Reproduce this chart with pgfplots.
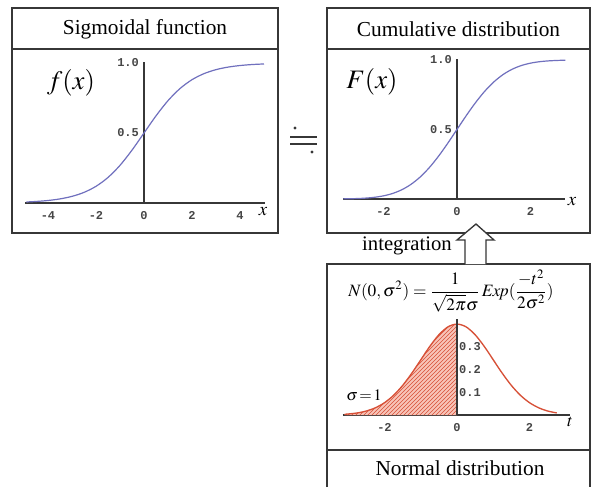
\documentclass[border=0pt]{standalone}
\usepackage{amsmath}
\usepackage{mathptmx}
\usepackage{fontspec}
\setmainfont{Liberation Serif}
\newfontfamily\monofont{Liberation Mono}
\usepackage{pgfplots}
\pgfplotsset{compat=1.18}
\usetikzlibrary{patterns}
\definecolor{frame}{RGB}{55,55,55}
\definecolor{sigblue}{RGB}{112,112,190}
\definecolor{normred}{RGB}{215,80,55}
\definecolor{hatchfill}{RGB}{248,196,184}
\definecolor{ticktext}{RGB}{70,70,70}
\pgfplotsset{
  panel/.style={
    scale only axis, anchor=south west,
    axis x line=bottom, axis y line=middle,
    axis line style={-, draw=frame, line width=0.9pt},
    tick style={draw=none},
    ticklabel style={font=\monofont\bfseries\fontsize{9}{10}\selectfont, text=ticktext},
    xticklabel style={yshift=-1pt},
    yticklabel style={inner sep=1.5pt},
    clip=false,
  }
}
\begin{document}
\begin{tikzpicture}
\path[use as bounding box, fill=white] (0,0) rectangle (445.5pt,-365.25pt);
\begin{scope}[x=0.75pt,y=-0.75pt]
  % frames
  \draw[frame, line width=1.1pt] (12,8) rectangle (278,233);
  \draw[frame, line width=1.1pt] (12,49) -- (278,49);
  \draw[frame, line width=1.1pt] (327,8) rectangle (590,233);
  \draw[frame, line width=1.1pt] (327,49) -- (590,49);
  \draw[frame, line width=1.1pt] (327,487) -- (327,264) -- (590,264) -- (590,487);
  \draw[frame, line width=1.1pt] (327,450) -- (590,450);
  % titles
  \node[font=\fontsize{16}{18}\selectfont] at (145,29) {Sigmoidal function};
  \node[font=\fontsize{16}{18}\selectfont] at (458.5,29) {Cumulative distribution};
  \node[font=\fontsize{16}{18}\selectfont] at (460,468) {Normal distribution};
  \node[font=\fontsize{15.5}{18}\selectfont] at (407,246) {integration};
  % function names
  \node[font=\fontsize{20}{22}\selectfont] at (71,83) {$f(x)$};
  \node[font=\fontsize{20}{22}\selectfont] at (372,82) {$F(x)$};
  % axis letters
  \node[font=\fontsize{14}{16}\selectfont] at (263,212) {$x$};
  \node[font=\fontsize{14}{16}\selectfont] at (572,202) {$x$};
  \node[font=\fontsize{13}{16}\selectfont] at (570,422) {$t$};
  \node[font=\fontsize{12}{14}\selectfont] at (364,395) {$\sigma\!=\!1$};
  % formula
  \node[font=\fontsize{13}{15}\selectfont] at (451,291)
    {$N(0,\sigma^2)=\dfrac{1}{\sqrt{2\pi}\sigma}\,\mathit{Exp}(\dfrac{-t^2}{2\sigma^2})$};
  % approx-equal sign
  \fill[frame] (295,128) circle (1.6);
  \fill[frame] (312,152) circle (1.6);
  \draw[frame, line width=1.4pt] (290,137) -- (317,137);
  \draw[frame, line width=1.4pt] (290,144) -- (317,144);
  % arrow
  \draw[frame, line width=1.0pt, fill=white] (465,264) -- (465,240) -- (457,240) -- (476,224) -- (494,240) -- (486,240) -- (486,264);
\end{scope}

% Panel 1: sigmoid
\begin{axis}[panel, at={(18.9pt,-152.25pt)},
  width=180pt, height=106.05pt,
  xmin=-4.95, xmax=5.05, ymin=0, ymax=1.01,
  xtick={-4,-2,0,2,4}, xticklabels={-4,-2,0,2,4},
  ytick={0.5,1.0}, yticklabels={0.5,1.0}]
\addplot[sigblue, line width=0.9pt, smooth] coordinates {
(-4.9,0.00739) (-4.5,0.01099) (-4,0.01799) (-3.5,0.02931) (-3,0.04743)
(-2.5,0.07586) (-2,0.11920) (-1.5,0.18243) (-1,0.26894) (-0.5,0.37754)
(0,0.5) (0.5,0.62246) (1,0.73106) (1.5,0.81757) (2,0.88080) (2.5,0.92414)
(3,0.95257) (3.5,0.97069) (4,0.98201) (4.5,0.98901) (5,0.99331)};
\end{axis}

% Panel 2: cumulative distribution
\begin{axis}[panel, at={(257.3pt,-149.25pt)},
  width=166.7pt, height=105.3pt,
  xmin=-3.1, xmax=2.95, ymin=0, ymax=1.01,
  xtick={-2,0,2}, xticklabels={-2,0,2},
  ytick={0.5,1.0}, yticklabels={0.5,1.0}]
\addplot[sigblue, line width=0.9pt, smooth] coordinates {
(-3.1,0.00097) (-2.75,0.00298) (-2.5,0.00621) (-2.25,0.01222) (-2,0.02275)
(-1.75,0.04006) (-1.5,0.06681) (-1.25,0.10565) (-1,0.15866) (-0.75,0.22663)
(-0.5,0.30854) (-0.25,0.40129) (0,0.5) (0.25,0.59871) (0.5,0.69146)
(0.75,0.77337) (1,0.84134) (1.25,0.89435) (1.5,0.93319) (1.75,0.95994)
(2,0.97725) (2.25,0.98778) (2.5,0.99379) (2.75,0.99702) (2.95,0.99841)};
\end{axis}

% Panel 3: normal distribution
\begin{axis}[panel, at={(257.1pt,-311.25pt)},
  width=170.5pt, height=71.8pt,
  xmin=-3.15, xmax=3.12, ymin=0, ymax=0.42,
  xtick={-2,0,2}, xticklabels={-2,0,2},
  ytick={0.1,0.2,0.3}, yticklabels={0.1,0.2,0.3},
  yticklabel style={anchor=west, xshift=2pt}]
\addplot[draw=none, fill=hatchfill] coordinates {
(-3.1,0.00327) (-3,0.00443) (-2.75,0.00909) (-2.5,0.01753) (-2.25,0.03174)
(-2,0.05399) (-1.75,0.08628) (-1.5,0.12952) (-1.25,0.18265) (-1,0.24197)
(-0.75,0.30114) (-0.5,0.35207) (-0.25,0.38667) (0,0.39894)} \closedcycle;
\addplot[draw=none, pattern=north east lines, pattern color=normred] coordinates {
(-3.1,0.00327) (-3,0.00443) (-2.75,0.00909) (-2.5,0.01753) (-2.25,0.03174)
(-2,0.05399) (-1.75,0.08628) (-1.5,0.12952) (-1.25,0.18265) (-1,0.24197)
(-0.75,0.30114) (-0.5,0.35207) (-0.25,0.38667) (0,0.39894)} \closedcycle;
\addplot[normred, line width=1.0pt, smooth] coordinates {
(-3.1,0.00327) (-3,0.00443) (-2.75,0.00909) (-2.5,0.01753) (-2.25,0.03174)
(-2,0.05399) (-1.75,0.08628) (-1.5,0.12952) (-1.25,0.18265) (-1,0.24197)
(-0.75,0.30114) (-0.5,0.35207) (-0.25,0.38667) (0,0.39894) (0.25,0.38667)
(0.5,0.35207) (0.75,0.30114) (1,0.24197) (1.25,0.18265) (1.5,0.12952)
(1.75,0.08628) (2,0.05399) (2.25,0.03174) (2.5,0.01753) (2.75,0.00909)};
\draw[frame, line width=0.9pt] (axis cs:0,0) -- (axis cs:0,0.42);
\end{axis}
\end{tikzpicture}
\end{document}
